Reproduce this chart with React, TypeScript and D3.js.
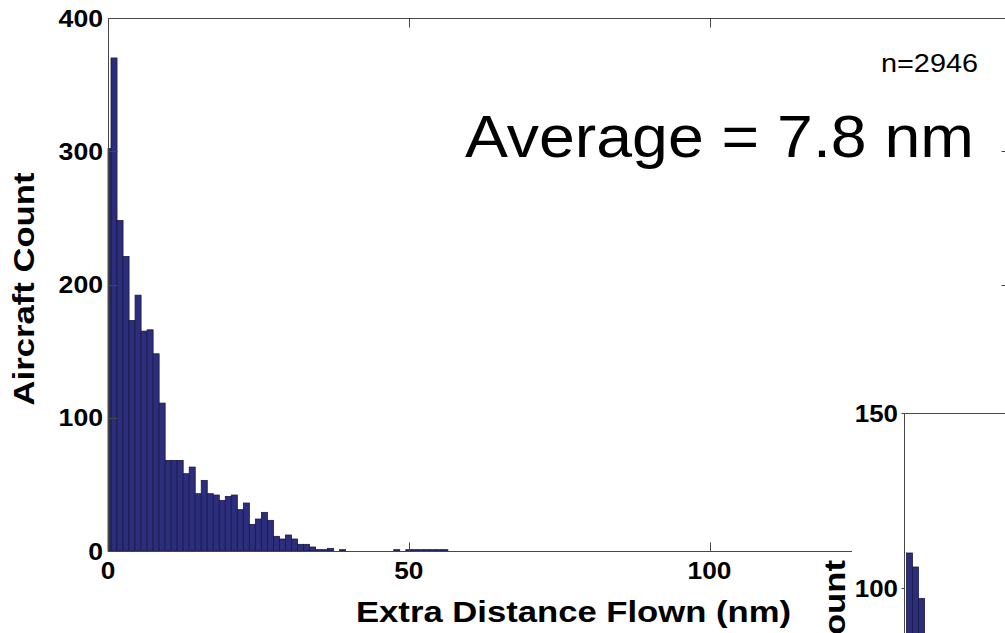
import React, { useEffect, useRef } from 'react';
import * as d3 from 'd3';

// counts per 1 nm bin, bin k centred on k (0..56)
const binCounts = [
  302, 370, 248, 221, 173, 192, 165, 166, 148, 111,
  68, 68, 68, 58, 63, 43, 53, 43, 42, 38,
  41, 42, 31, 36, 20, 24, 29, 23, 11, 9,
  12, 9, 5, 5, 3, 1, 1, 2, 0, 1,
  0, 0, 0, 0, 0, 0, 0, 0, 1, 0,
  1, 1, 1, 1, 1, 1, 1,
];
const xTicks = [0, 50, 100];
const yTicks = [0, 100, 200, 300, 400];
const sampleLabel = 'n=2946';
const averageLabel = 'Average = 7.8 nm';

// second (cropped) panel in the lower right
const insetBins = [1, 2, 3];
const insetCounts = [110, 106, 97];
const insetTicks = [100, 150];

const FONT = '"Liberation Sans", Arial, Helvetica, sans-serif';
const BAR_FILL = '#2c2d7b';
const BAR_EDGE = '#1a1a44';
const AXIS = '#474747';

export default function App() {
  const svgRef = useRef<SVGSVGElement>(null);

  useEffect(() => {
    if (!svgRef.current) return;
    const el = svgRef.current;
    d3.select(el).selectAll('*').remove();

    const W = 1005;
    const H = 633;
    const svg = d3.select(el).attr('width', W).attr('height', H);

    svg.append('rect').attr('width', W).attr('height', H).attr('fill', '#fff');

    const x = d3.scaleLinear().domain([0, 150]).range([108, 1010.3]);
    const y = d3.scaleLinear().domain([0, 400]).range([551, 18]);
    const tickLen = 9;

    // bars
    const bars = binCounts
      .map((c, k) => ({ c, x0: Math.max(0, k - 0.5), x1: k + 0.5 }))
      .filter((d) => d.c > 0);
    svg.append('g')
      .selectAll('rect')
      .data(bars)
      .join('rect')
      .attr('x', (d) => x(d.x0))
      .attr('y', (d) => y(d.c))
      .attr('width', (d) => x(d.x1) - x(d.x0))
      .attr('height', (d) => y(0) - y(d.c))
      .attr('fill', BAR_FILL)
      .attr('stroke', BAR_EDGE)
      .attr('stroke-width', 0.8);

    // box
    const left = Math.round(x(0)) + 0.5;
    const right = Math.round(x(150)) + 0.5;
    const top = Math.round(y(400)) + 0.5;
    const bottom = Math.round(y(0)) + 0.5;
    const axes = svg.append('g').attr('stroke', AXIS).attr('stroke-width', 1).attr('fill', 'none');
    axes.append('path').attr('d', `M${left},${top}H${right}V${bottom}H${left}Z`);

    xTicks.forEach((t) => {
      const px = Math.round(x(t)) + 0.5;
      axes.append('line').attr('x1', px).attr('x2', px).attr('y1', bottom).attr('y2', bottom - tickLen);
      axes.append('line').attr('x1', px).attr('x2', px).attr('y1', top).attr('y2', top + tickLen);
    });
    yTicks.forEach((t) => {
      const py = Math.round(y(t)) + 0.5;
      axes.append('line').attr('x1', left).attr('x2', left + tickLen).attr('y1', py).attr('y2', py);
      axes.append('line').attr('x1', right).attr('x2', right - tickLen).attr('y1', py).attr('y2', py);
    });

    // tick labels
    svg.append('g')
      .selectAll('text')
      .data(xTicks)
      .join('text')
      .attr('x', (d) => x(d))
      .attr('y', 579)
      .attr('text-anchor', 'middle')
      .attr('font-family', FONT)
      .attr('font-weight', 'bold')
      .attr('font-size', 23)
      .attr('textLength', (d) => String(d).length * 14.6)
      .attr('lengthAdjust', 'spacingAndGlyphs')
      .attr('fill', '#000')
      .text((d) => String(d));

    svg.append('g')
      .selectAll('text')
      .data(yTicks)
      .join('text')
      .attr('x', 103)
      .attr('y', (d) => y(d) + 8.5)
      .attr('text-anchor', 'end')
      .attr('font-family', FONT)
      .attr('font-weight', 'bold')
      .attr('font-size', 23)
      .attr('textLength', (d) => String(d).length * 14.8)
      .attr('lengthAdjust', 'spacingAndGlyphs')
      .attr('fill', '#000')
      .text((d) => String(d));

    // axis titles
    svg.append('text')
      .attr('x', 356).attr('y', 622)
      .attr('font-family', FONT)
      .attr('font-weight', 'bold')
      .attr('font-size', 30)
      .attr('textLength', 435)
      .attr('lengthAdjust', 'spacingAndGlyphs')
      .attr('fill', '#000')
      .text('Extra Distance Flown (nm)');

    svg.append('text')
      .attr('transform', 'translate(34,289) rotate(-90)')
      .attr('text-anchor', 'middle')
      .attr('font-family', FONT)
      .attr('font-weight', 'bold')
      .attr('font-size', 30)
      .attr('textLength', 233)
      .attr('lengthAdjust', 'spacingAndGlyphs')
      .attr('fill', '#000')
      .text('Aircraft Count');

    // annotations
    svg.append('text')
      .attr('x', 881).attr('y', 72)
      .attr('font-family', FONT)
      .attr('font-size', 26)
      .attr('textLength', 97)
      .attr('lengthAdjust', 'spacingAndGlyphs')
      .attr('fill', '#000')
      .text(sampleLabel);

    svg.append('text')
      .attr('x', 465).attr('y', 157)
      .attr('font-family', FONT)
      .attr('font-size', 60)
      .attr('textLength', 509)
      .attr('lengthAdjust', 'spacingAndGlyphs')
      .attr('fill', '#000')
      .text(averageLabel);

    // second figure overlapping the lower right corner
    const inset = svg.append('g');
    inset.append('rect')
      .attr('x', 852).attr('y', 395)
      .attr('width', W - 852).attr('height', H - 395)
      .attr('fill', '#fff');

    const x2 = d3.scaleLinear().domain([0, 20]).range([903.5, 903.5 + 20 * 6]);
    const y2 = d3.scaleLinear().domain([100, 150]).range([588, 413]);

    inset.append('g')
      .selectAll('rect')
      .data(insetBins.map((b, i) => ({ b, c: insetCounts[i] })))
      .join('rect')
      .attr('x', (d) => x2(d.b - 0.5))
      .attr('y', (d) => y2(d.c))
      .attr('width', x2(1) - x2(0))
      .attr('height', (d) => H + 10 - y2(d.c))
      .attr('fill', BAR_FILL)
      .attr('stroke', BAR_EDGE)
      .attr('stroke-width', 0.8);

    const l2 = Math.round(x2(0)) + 0.5;
    const t2 = Math.round(y2(150)) + 0.5;
    inset.append('path')
      .attr('d', `M${W + 5},${t2}H${l2}V${H + 5}`)
      .attr('stroke', AXIS)
      .attr('fill', 'none');
    insetTicks.forEach((t) => {
      const py = Math.round(y2(t)) + 0.5;
      inset.append('line')
        .attr('x1', l2 - 3).attr('x2', l2)
        .attr('y1', py).attr('y2', py)
        .attr('stroke', AXIS);
    });

    inset.append('g')
      .selectAll('text')
      .data(insetTicks)
      .join('text')
      .attr('x', 898)
      .attr('y', (d) => y2(d) + 8.5)
      .attr('text-anchor', 'end')
      .attr('font-family', FONT)
      .attr('font-weight', 'bold')
      .attr('font-size', 23)
      .attr('textLength', (d) => String(d).length * 14.4)
      .attr('lengthAdjust', 'spacingAndGlyphs')
      .attr('fill', '#000')
      .text((d) => String(d));

    inset.append('text')
      .attr('transform', 'translate(845,560) rotate(-90)')
      .attr('text-anchor', 'end')
      .attr('font-family', FONT)
      .attr('font-weight', 'bold')
      .attr('font-size', 30)
      .attr('textLength', 233)
      .attr('lengthAdjust', 'spacingAndGlyphs')
      .attr('fill', '#000')
      .text('Aircraft Count');
  }, []);

  return (
    <svg
      ref={svgRef}
      style={{ position: 'fixed', left: 0, top: 0, display: 'block' }}
    />
  );
}
